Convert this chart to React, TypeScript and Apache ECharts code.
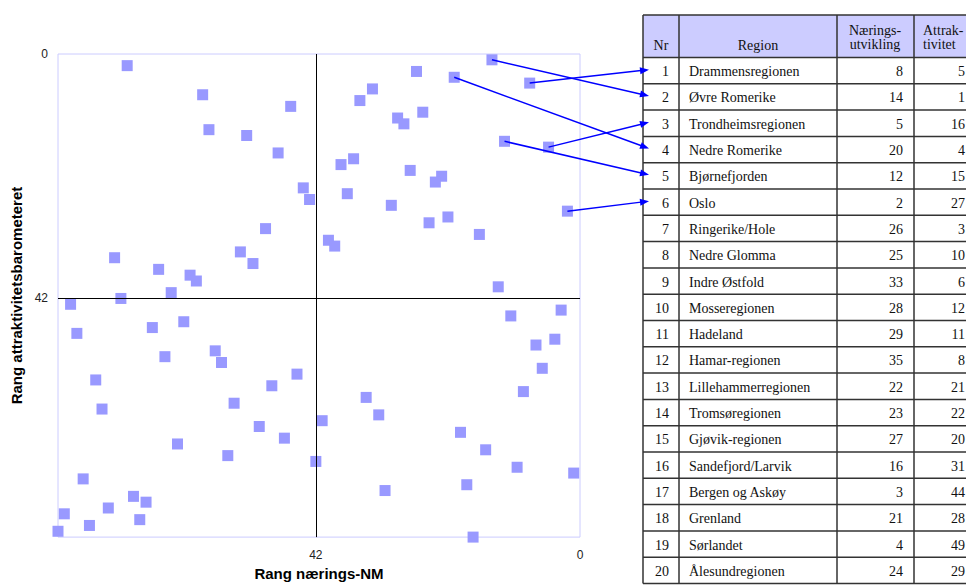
import React, { useEffect, useRef } from "react";
import * as echarts from "echarts";

// Scatter: rank in næringsNM (x) for each attraktivitet rank 1..83 (y)
const attraktRank = Array.from({ length: 83 }, (_, i) => i + 1);
const naeringRank = [
  14, 72, 26, 20, 8, 33, 60, 35, 46, 25,
  29, 28, 59, 53, 12, 5, 48, 36, 38, 27,
  22, 23, 44, 37, 43, 30, 2, 21, 24, 50,
  16, 40, 39, 54, 74, 52, 67, 62, 61, 13,
  65, 73, 81, 3, 11, 63, 68, 80, 4, 7,
  58, 66, 57, 6, 45, 77, 49, 9, 34, 55,
  76, 32, 41, 51, 19, 47, 64, 15, 56, 42,
  10, 1, 79, 18, 31, 71, 69, 75, 82, 70,
  78, 83, 17,
];

// Table
const tableNr = [1, 2, 3, 4, 5, 6, 7, 8, 9, 10, 11, 12, 13, 14, 15, 16, 17, 18, 19, 20];
const regions = [
  "Drammensregionen", "Øvre Romerike", "Trondheimsregionen", "Nedre Romerike", "Bjørnefjorden",
  "Oslo", "Ringerike/Hole", "Nedre Glomma", "Indre Østfold", "Mosseregionen",
  "Hadeland", "Hamar-regionen", "Lillehammerregionen", "Tromsøregionen", "Gjøvik-regionen",
  "Sandefjord/Larvik", "Bergen og Askøy", "Grenland", "Sørlandet", "Ålesundregionen",
];
const naeringTab = [8, 14, 5, 20, 12, 2, 26, 25, 33, 28, 29, 35, 22, 23, 27, 16, 3, 21, 4, 24];
const attrakTab = [5, 1, 16, 4, 15, 27, 3, 10, 6, 12, 11, 8, 21, 22, 20, 31, 44, 28, 49, 29];
const arrowCount = 6;

const axisTicks = [0, 42];

export default function App() {
  const ref = useRef<HTMLDivElement>(null);
  useEffect(() => {
    if (!ref.current) return;
    const chart = echarts.init(ref.current, null, { renderer: "svg" });
    const sans = "Liberation Sans";
    const serif = "Liberation Serif";
    const labelFmt = (v: number) => (axisTicks.includes(v) ? String(v) : "");
    chart.setOption({
      animation: false,
      backgroundColor: "#ffffff",
      grid: {
        left: 58,
        top: 54,
        width: 522,
        height: 488,
        show: true,
        borderColor: "#ccccff",
        borderWidth: 1,
        backgroundColor: "transparent",
      },
      xAxis: {
        type: "value",
        inverse: true,
        min: 0,
        max: 83,
        interval: 42,
        axisLine: { show: false, onZero: false },
        axisTick: { show: false },
        splitLine: { show: false },
        axisLabel: {
          formatter: labelFmt,
          showMaxLabel: false,
          color: "#222",
          fontSize: 12,
          fontFamily: sans,
          margin: 12,
        },
        name: "Rang nærings-NM",
        nameLocation: "middle",
        nameGap: 28,
        nameTextStyle: { fontFamily: sans, fontWeight: "bold", fontSize: 15, color: "#000" },
      },
      yAxis: {
        type: "value",
        inverse: true,
        min: 0,
        max: 83,
        interval: 42,
        axisLine: { show: false, onZero: false },
        axisTick: { show: false },
        splitLine: { show: false },
        axisLabel: {
          formatter: labelFmt,
          showMaxLabel: false,
          color: "#222",
          fontSize: 12,
          fontFamily: sans,
          margin: 10,
        },
        name: "Rang attraktivitetsbarometeret",
        nameLocation: "middle",
        nameGap: 31,
        nameTextStyle: { fontFamily: sans, fontWeight: "bold", fontSize: 15, color: "#000" },
      },
      series: [
        {
          type: "scatter",
          symbol: "rect",
          symbolSize: 11,
          itemStyle: { color: "#9999ff", opacity: 1 },
          data: naeringRank.map((x, i) => [x, attraktRank[i]]),
          markLine: {
            silent: true,
            symbol: "none",
            label: { show: false },
            lineStyle: { color: "#000", width: 1, type: "solid" },
            data: [{ xAxis: 42 }, { yAxis: 42 }],
          },
        },
      ],
    });

    // Table layout
    const colX = [643, 679, 837, 914, 980];
    const top = 15;
    const headBottom = 57.5;
    const rowH = 26.3;
    const bottom = headBottom + rowH * tableNr.length;
    const els: any[] = [];
    els.push({
      type: "rect",
      shape: { x: colX[0], y: top, width: colX[4] - colX[0], height: headBottom - top },
      style: { fill: "#ccccff" },
      z: 1,
    });
    const lineStyle = { stroke: "#333", lineWidth: 1.5 };
    const hy = [top, headBottom];
    for (let i = 1; i <= tableNr.length; i++) hy.push(headBottom + rowH * i);
    hy.forEach((y) =>
      els.push({ type: "line", shape: { x1: colX[0], y1: y, x2: colX[4], y2: y }, style: lineStyle, z: 2 })
    );
    colX.slice(0, 4).forEach((x) =>
      els.push({ type: "line", shape: { x1: x, y1: top, x2: x, y2: bottom }, style: lineStyle, z: 2 })
    );
    const txt = (text: string, x: number, y: number, align: string) => ({
      type: "text",
      z: 3,
      style: {
        text,
        x,
        y,
        align,
        verticalAlign: "middle",
        fontFamily: serif,
        fontSize: 14,
        fill: "#111",
      },
    });
    els.push(txt("Nr", 661, 45, "center"));
    els.push(txt("Region", 758, 45, "center"));
    els.push(txt("Nærings-", 875, 30, "center"));
    els.push(txt("utvikling", 875, 44, "center"));
    els.push(txt("Attrak-", 923, 30, "left"));
    els.push(txt("tivitet", 923, 44, "left"));
    tableNr.forEach((nr, i) => {
      const cy = headBottom + rowH * (i + 0.5) + 1;
      els.push(txt(String(nr), 669, cy, "right"));
      els.push(txt(regions[i], 689, cy, "left"));
      els.push(txt(String(naeringTab[i]), 903, cy, "right"));
      els.push(txt(String(attrakTab[i]), 965, cy, "right"));
    });

    // Arrows from points to table rows
    for (let i = 0; i < arrowCount; i++) {
      const p = chart.convertToPixel({ xAxisIndex: 0, yAxisIndex: 0 }, [naeringTab[i], attrakTab[i]]) as number[];
      const tx = 649;
      const ty = headBottom + rowH * (i + 0.5) - 1;
      const dx = tx - p[0];
      const dy = ty - p[1];
      const len = Math.sqrt(dx * dx + dy * dy);
      const ux = dx / len;
      const uy = dy / len;
      const hl = 9;
      const hw = 3.5;
      const bx = tx - ux * hl;
      const by = ty - uy * hl;
      els.push({
        type: "line",
        z: 5,
        shape: { x1: p[0], y1: p[1], x2: bx + ux, y2: by + uy },
        style: { stroke: "#0000ff", lineWidth: 1.5 },
      });
      els.push({
        type: "polygon",
        z: 5,
        shape: {
          points: [
            [tx, ty],
            [bx - uy * hw, by + ux * hw],
            [bx + uy * hw, by - ux * hw],
          ],
        },
        style: { fill: "#0000ff" },
      });
    }
    chart.setOption({ graphic: { elements: els } });

    return () => chart.dispose();
  }, []);
  return (
    <div
      ref={ref}
      style={{ position: "fixed", left: 0, top: 0, width: 966, height: 586, background: "#fff" }}
    />
  );
}
